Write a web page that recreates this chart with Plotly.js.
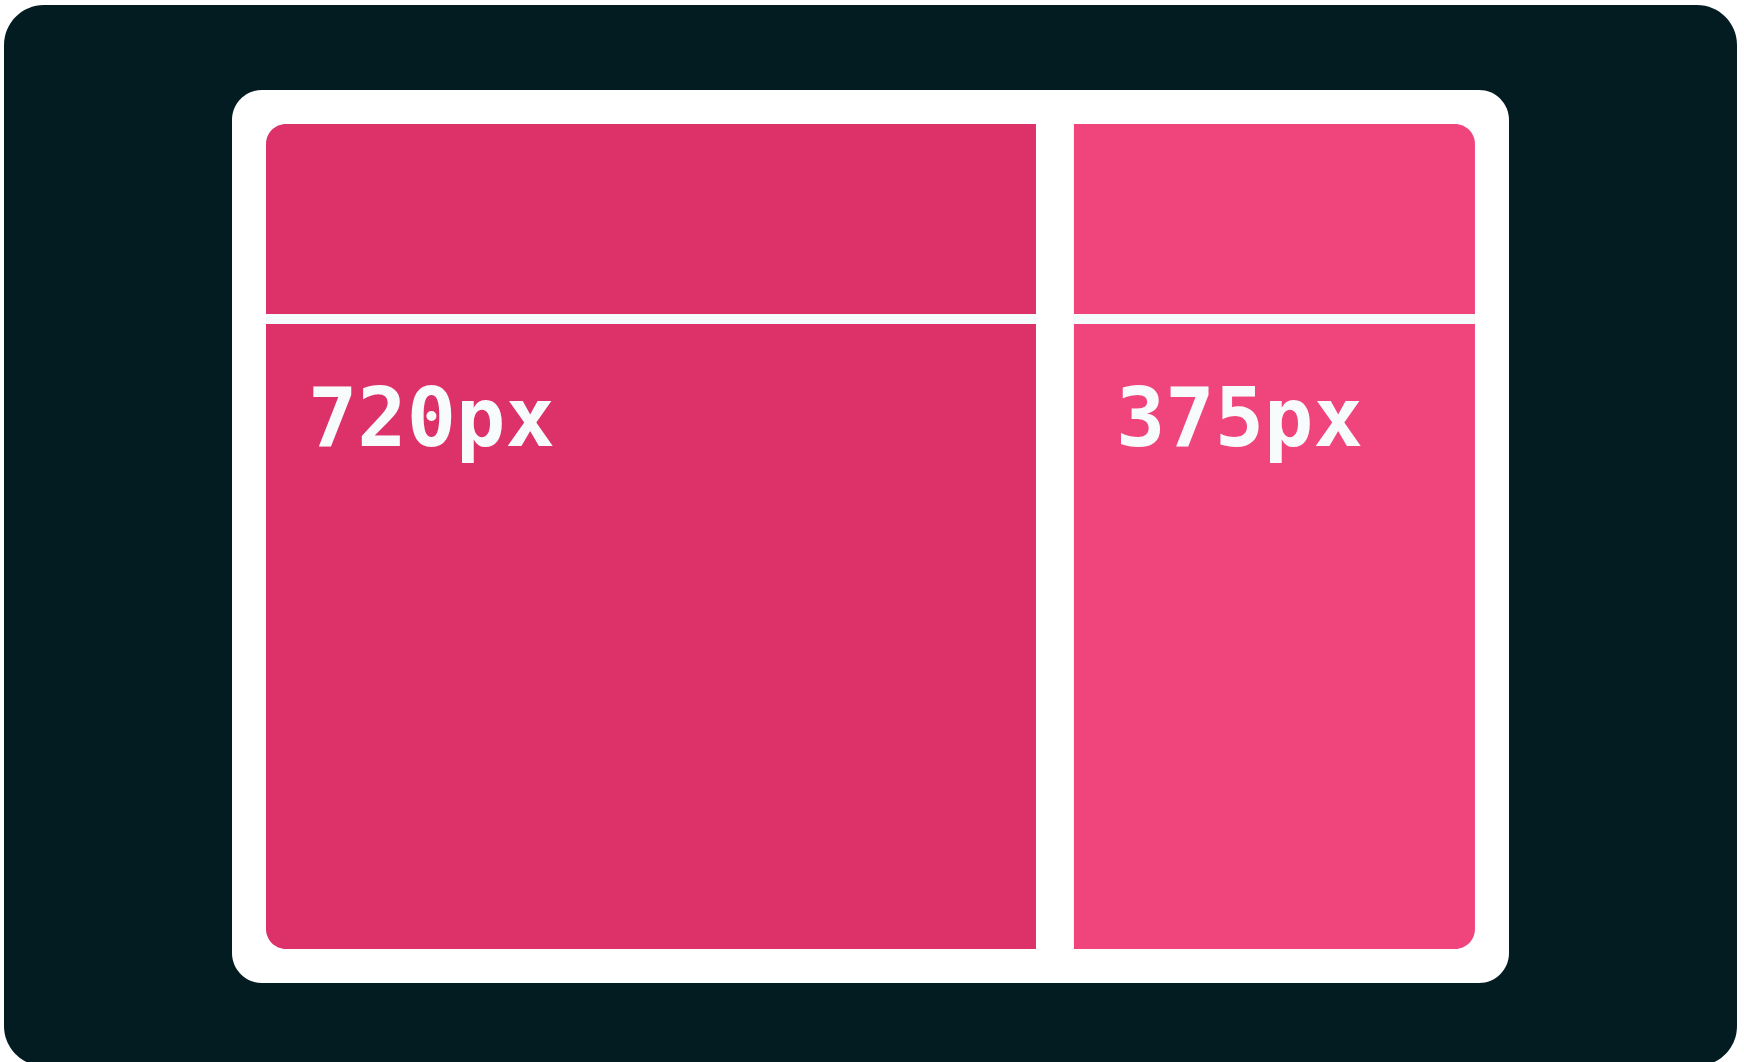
<!DOCTYPE html>
<html><head><meta charset="utf-8">
<script src="https://cdn.plot.ly/plotly-3.0.1.min.js"></script>
<style>html,body{margin:0;padding:0;background:#fff;overflow:hidden}#chart{width:1744px;height:1062px}</style>
</head><body><div id="chart"></div>
<script>
// ---- data ----
const labels = ["720px", "375px"];
const widths = [720, 375];
const panelColors = ["#DC3169", "#F0447D"];

// ---- geometry / styling ----
const W = 1744, H = 1062;
const pxPerUnit = 1.0694;      // screen px per data unit
const originPx = 266;          // where x=0 lands
const gapUnits = 35.5;         // gap between panels in data units
const xMin = -originPx / pxPerUnit;
const xMax = xMin + W / pxPerUnit;
const ux = px => xMin + px / pxPerUnit;
const K = 0.5523;

function rrect(xa, xb, ya, yb, r, c) { // c = [tl,tr,br,bl] radii in px
  const rx = c.map(v => v / pxPerUnit), ry = c;
  const p = [];
  p.push(`M${xa + rx[0]},${ya}`);
  p.push(`L${xb - rx[1]},${ya}`);
  p.push(`C${xb - rx[1] + K * rx[1]},${ya} ${xb},${ya + ry[1] - K * ry[1]} ${xb},${ya + ry[1]}`);
  p.push(`L${xb},${yb - ry[2]}`);
  p.push(`C${xb},${yb - ry[2] + K * ry[2]} ${xb - rx[2] + K * rx[2]},${yb} ${xb - rx[2]},${yb}`);
  p.push(`L${xa + rx[3]},${yb}`);
  p.push(`C${xa + rx[3] - K * rx[3]},${yb} ${xa},${yb - ry[3] + K * ry[3]} ${xa},${yb - ry[3]}`);
  p.push(`L${xa},${ya + ry[0]}`);
  p.push(`C${xa},${ya + ry[0] - K * ry[0]} ${xa + rx[0] - K * rx[0]},${ya} ${xa + rx[0]},${ya}`);
  p.push('Z');
  return p.join(' ');
}

const shapes = [];
// dark rounded background
shapes.push({type: 'path', xref: 'x', yref: 'y', layer: 'below',
  path: rrect(ux(4), ux(1737), 5, 1066, 40, [40, 40, 40, 40]),
  fillcolor: '#031C22', line: {width: 0}});
// white frame
shapes.push({type: 'path', xref: 'x', yref: 'y', layer: 'below',
  path: rrect(ux(232), ux(1509), 90, 983, 30, [30, 30, 30, 30]),
  fillcolor: '#FFFFFF', line: {width: 0}});

const panelTop = 124, panelBottom = 949, lineTop = 314, lineBottom = 324, R = 20;
const annotations = [];
let start = 0;
widths.forEach((w, i) => {
  const xa = start, xb = start + w;
  const corners = i === 0 ? [R, 0, 0, R] : [0, R, R, 0];
  shapes.push({type: 'path', xref: 'x', yref: 'y', layer: 'below',
    path: rrect(xa, xb, panelTop, panelBottom, R, corners),
    fillcolor: panelColors[i], line: {width: 0}});
  shapes.push({type: 'rect', xref: 'x', yref: 'y', layer: 'below',
    x0: xa, x1: xb, y0: lineTop, y1: lineBottom,
    fillcolor: '#F5FAFC', line: {width: 0}});
  annotations.push({x: xa + 37, y: 417, xref: 'x', yref: 'y',
    xanchor: 'left', yanchor: 'middle', showarrow: false,
    text: labels[i],
    font: {family: 'DejaVu Sans Mono', size: 82, color: '#F7FBFC', weight: 'bold'}});
  start = xb + gapUnits;
});

const layout = {
  width: W, height: H,
  margin: {l: 0, r: 0, t: 0, b: 0, pad: 0},
  paper_bgcolor: '#FFFFFF', plot_bgcolor: 'rgba(0,0,0,0)',
  xaxis: {range: [xMin, xMax], visible: false, fixedrange: true},
  yaxis: {range: [H, 0], visible: false, fixedrange: true},
  showlegend: false,
  shapes: shapes,
  annotations: annotations
};
Plotly.newPlot('chart', [], layout, {staticPlot: true, displayModeBar: false});
</script>
</body></html>
